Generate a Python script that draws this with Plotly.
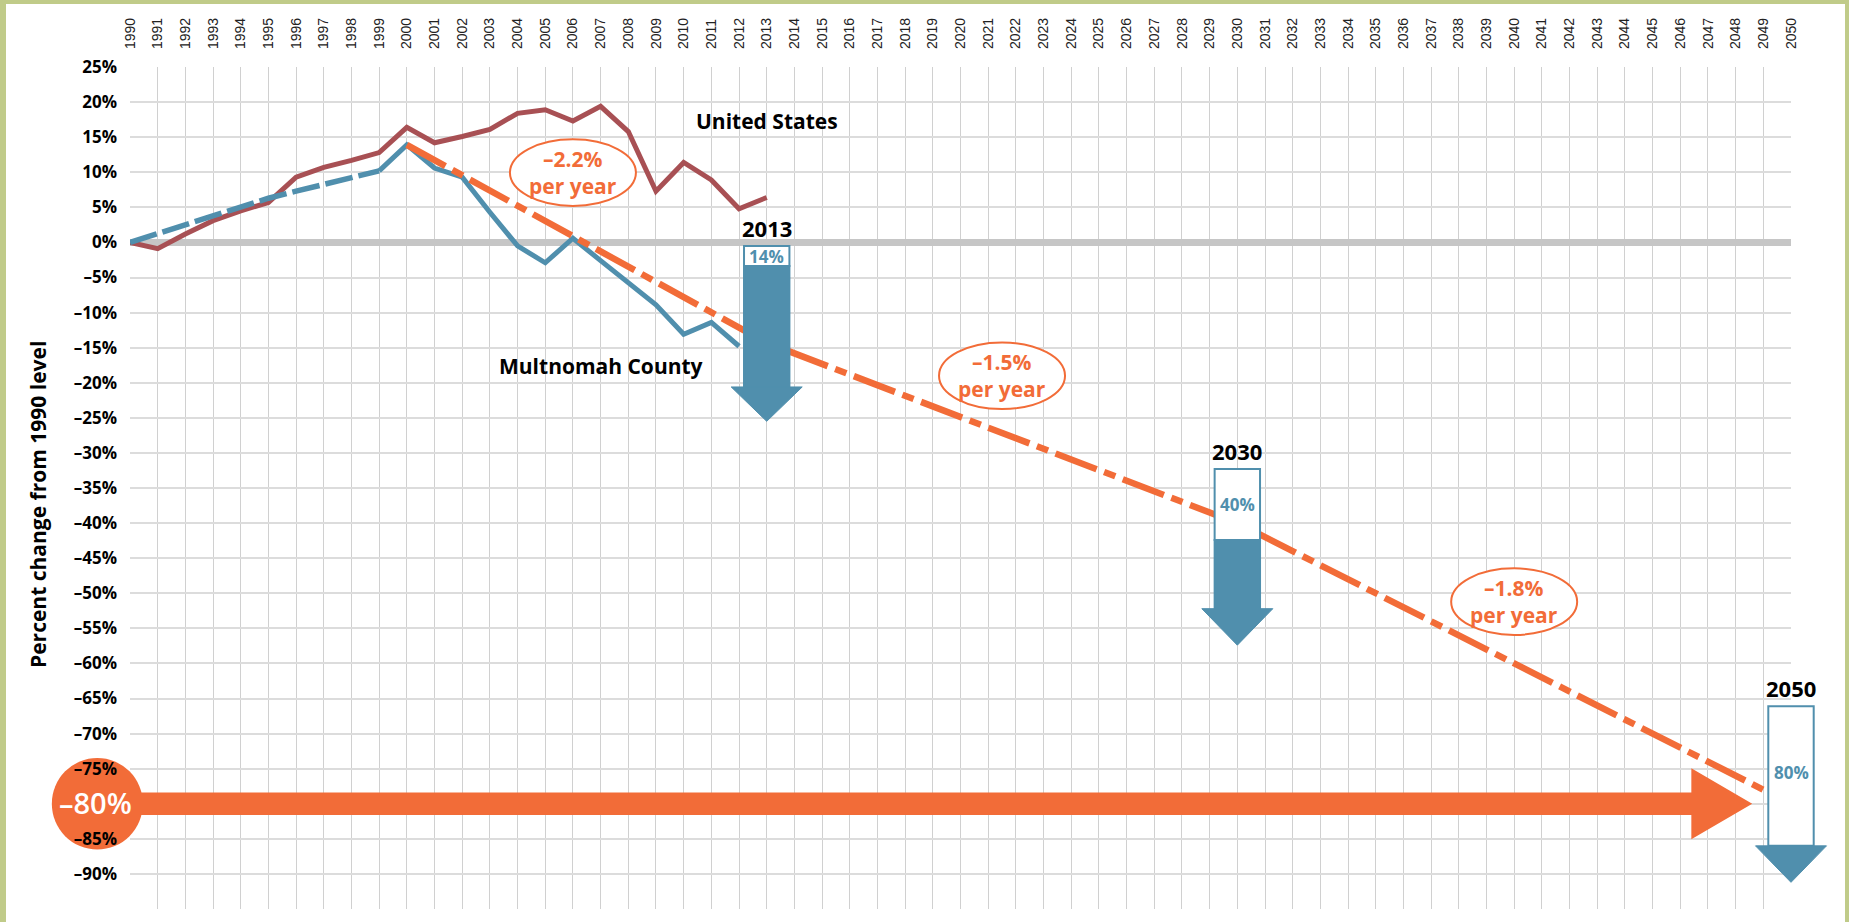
import plotly.graph_objects as go

# ---------------- data ----------------
us_years = list(range(1990, 2014))
us_values = [0.0, -0.9, 1.2, 3.1, 4.5, 5.7, 9.3, 10.7, 11.7, 12.8, 16.4, 14.2,
             15.1, 16.1, 18.4, 18.9, 17.3, 19.4, 15.8, 7.3, 11.4, 8.9, 4.8, 6.4]

mc_est_years = list(range(1990, 2000))
mc_est_values = [0.0, 1.3, 2.5, 3.8, 5.0, 6.3, 7.3, 8.3, 9.3, 10.2]

mc_years = list(range(1999, 2013))
mc_values = [10.2, 13.9, 10.6, 9.3, 4.3, -0.5, -2.9, 0.6, -2.6, -5.8, -8.9,
             -13.1, -11.4, -14.8]

path_years = [2000, 2013, 2030, 2050]
path_values = [13.9, -14.3, -40.0, -80.0]

rate_labels = ["–2.2%", "–1.5%", "–1.8%"]
target_years = [2013, 2030, 2050]
target_labels = ["14%", "40%", "80%"]
goal_value = -80
goal_label = "–80%"

year_ticks = list(range(1990, 2051))
pct_ticks = list(range(-90, 26, 5))

# ---------------- layout geometry / styles ----------------
W, H = 1849, 922
ML, MR, MT, MB = 130, 58, 67, 13
PW, PH = W - ML - MR, H - MT - MB
X0, X1 = 1990, 2050
Y0, Y1 = -95, 25

RED = "#A85054"
BLUE = "#508FAD"
ORANGE = "#F26C38"
GREEN = "#C0CB89"
FONT = "Open Sans"


def px(year):
    return (year - X0) / (X1 - X0)


def py(v):
    return (v - Y0) / (Y1 - Y0)


def dpx(pix):
    return pix / PW


def dpy(pix):
    return pix / PH


def ppx(pix):  # absolute page pixel -> paper x
    return (pix - ML) / PW


def ppy(pix):  # absolute page pixel -> paper y
    return 1 - (pix - MT) / PH


# arrow geometry for each target (values on the % scale)
arrow_geo = [
    dict(top=-0.5, white=-3.35, base=-20.6, tip=-25.5, lab=-1.95, yr=2.1),
    dict(top=-32.3, white=-42.4, base=-52.2, tip=-57.4, lab=-37.4, yr=-29.7),
    dict(top=-66.1, white=-86.0, base=-86.0, tip=-91.2, lab=-75.6, yr=-63.5),
]
rate_pos = [(2006.0, 9.95), (2021.5, -19.0), (2040.0, -51.2)]

fig = go.Figure()

fig.add_trace(go.Scatter(x=us_years, y=us_values, mode="lines",
                         line=dict(color=RED, width=5), hoverinfo="skip",
                         showlegend=False))
fig.add_trace(go.Scatter(x=mc_est_years, y=mc_est_values, mode="lines",
                         line=dict(color=BLUE, width=5.5, dash="28px,6px"),
                         hoverinfo="skip", showlegend=False))
fig.add_trace(go.Scatter(x=mc_years, y=mc_values, mode="lines",
                         line=dict(color=BLUE, width=5), hoverinfo="skip",
                         showlegend=False))
fig.add_trace(go.Scatter(x=path_years, y=path_values, mode="lines",
                         line=dict(color=ORANGE, width=6.5,
                                   dash="44px,8px,12px,8px"),
                         hoverinfo="skip", showlegend=False))

shapes = []
# white page over green frame
shapes.append(dict(type="rect", xref="paper", yref="paper",
                   x0=ppx(6), x1=ppx(1845), y0=ppy(4), y1=ppy(H + 5),
                   fillcolor="white", line=dict(width=0), layer="below"))
# -80% circle
cx, cy = px(1988.82), py(goal_value)
shapes.append(dict(type="circle", xref="paper", yref="paper",
                   x0=cx - dpx(45.5), x1=cx + dpx(45.5),
                   y0=cy - dpy(45.8), y1=cy + dpy(45.8),
                   fillcolor=ORANGE, line=dict(width=0), layer="below"))
# horizontal goal arrow
body_h = 11.2
head_h = 35.5
hb = px(2046.4)
tip = px(2048.6)
shapes.append(dict(type="path", xref="paper", yref="paper",
                   path=(f"M {cx},{cy + dpy(body_h)} L {hb},{cy + dpy(body_h)} "
                         f"L {hb},{cy + dpy(head_h)} L {tip},{cy} "
                         f"L {hb},{cy - dpy(head_h)} L {hb},{cy - dpy(body_h)} "
                         f"L {cx},{cy - dpy(body_h)} Z"),
                   fillcolor=ORANGE, line=dict(width=0), layer="above"))

# target arrows
for yr, g in zip(target_years, arrow_geo):
    xc = px(yr)
    bw = dpx(22.7)
    hw = dpx(35.5)
    # blue body
    if g["base"] < g["white"]:
        shapes.append(dict(type="rect", xref="paper", yref="paper",
                           x0=xc - bw, x1=xc + bw, y0=py(g["base"]) - dpy(1),
                           y1=py(g["white"]), fillcolor=BLUE,
                           line=dict(color=BLUE, width=2), layer="above"))
    # white label box
    shapes.append(dict(type="rect", xref="paper", yref="paper",
                       x0=xc - bw, x1=xc + bw, y0=py(g["white"]),
                       y1=py(g["top"]), fillcolor="white",
                       line=dict(color=BLUE, width=2), layer="above"))
    # head
    shapes.append(dict(type="path", xref="paper", yref="paper",
                       path=(f"M {xc - hw},{py(g['base'])} L {xc + hw},{py(g['base'])} "
                             f"L {xc},{py(g['tip'])} Z"),
                       fillcolor=BLUE, line=dict(color=BLUE, width=1),
                       layer="above"))

# rate ellipses
for (ex, ey) in rate_pos:
    shapes.append(dict(type="circle", xref="paper", yref="paper",
                       x0=px(ex) - dpx(63), x1=px(ex) + dpx(63),
                       y0=py(ey) - dpy(33.3), y1=py(ey) + dpy(33.3),
                       fillcolor="white", line=dict(color=ORANGE, width=2),
                       layer="above"))

annotations = []
# y-axis title
annotations.append(dict(text="Percent change from 1990 level", xref="paper",
                        yref="paper", x=ppx(38), y=ppy(505), textangle=-90,
                        showarrow=False, xanchor="center", yanchor="middle",
                        font=dict(family=FONT, size=21, color="black",
                                  weight="bold")))
# goal circle label
annotations.append(dict(text=goal_label, xref="paper", yref="paper",
                        x=cx - dpx(2), y=cy + dpy(1), showarrow=False,
                        xanchor="center", yanchor="middle",
                        font=dict(family=FONT, size=29, color="white",
                                  weight=600)))
# series labels
annotations.append(dict(text="United States", x=2013.0, y=17.3, xref="x",
                        yref="y", showarrow=False,
                        xanchor="center", yanchor="middle",
                        font=dict(family=FONT, size=21, color="black",
                                  weight="bold")))
annotations.append(dict(text="Multnomah County", x=2007.0, y=-17.6, xref="x",
                        yref="y", showarrow=False,
                        xanchor="center", yanchor="middle",
                        font=dict(family=FONT, size=21, color="black",
                                  weight="bold")))
# target labels
for yr, lab, g in zip(target_years, target_labels, arrow_geo):
    annotations.append(dict(text=str(yr), x=yr, y=g["yr"], xref="x", yref="y",
                            showarrow=False, xanchor="center", yanchor="middle",
                            font=dict(family=FONT, size=22, color="black",
                                      weight="bold")))
    annotations.append(dict(text=lab, x=yr, y=g["lab"], xref="x", yref="y",
                            showarrow=False, xanchor="center", yanchor="middle",
                            font=dict(family=FONT, size=17, color=BLUE,
                                      weight="bold")))
# rate labels
for (ex, ey), lab in zip(rate_pos, rate_labels):
    annotations.append(dict(text=f"{lab}<br>per year", x=ex, y=ey, xref="x",
                            yref="y", showarrow=False, xanchor="center",
                            yanchor="middle",
                            font=dict(family=FONT, size=21, color=ORANGE,
                                      weight="bold")))

fig.update_layout(
    width=W, height=H, autosize=False,
    margin=dict(l=ML, r=MR, t=MT, b=MB, pad=0),
    paper_bgcolor=GREEN, plot_bgcolor="rgba(0,0,0,0)",
    shapes=shapes, annotations=annotations, showlegend=False,
    xaxis=dict(range=[X0, X1], side="top", tickmode="array",
               tickvals=year_ticks, ticktext=[str(y) for y in year_ticks],
               tickangle=-90, ticks="", ticklabelstandoff=17,
               tickfont=dict(family="Liberation Sans", size=14, color="#222"),
               showgrid=True, gridcolor="#D0D0D0", gridwidth=1.2,
               zeroline=False, showline=False, fixedrange=True),
    yaxis=dict(range=[Y0, Y1], tickmode="array", tickvals=pct_ticks,
               ticktext=["" if v == goal_value else
                         (f"–{abs(v)}%" if v < 0 else f"{v}%")
                         for v in pct_ticks],
               ticks="", ticklabelstandoff=12,
               tickfont=dict(family=FONT, size=17, color="black",
                             weight="bold"),
               showgrid=True, gridcolor="#DCDCDC", gridwidth=2,
               zeroline=True, zerolinecolor="#C6C6C6", zerolinewidth=7,
               showline=False, fixedrange=True),
)

fig.write_html("out.html", config=dict(displayModeBar=False),
               post_script="document.body.style.margin='0';")
